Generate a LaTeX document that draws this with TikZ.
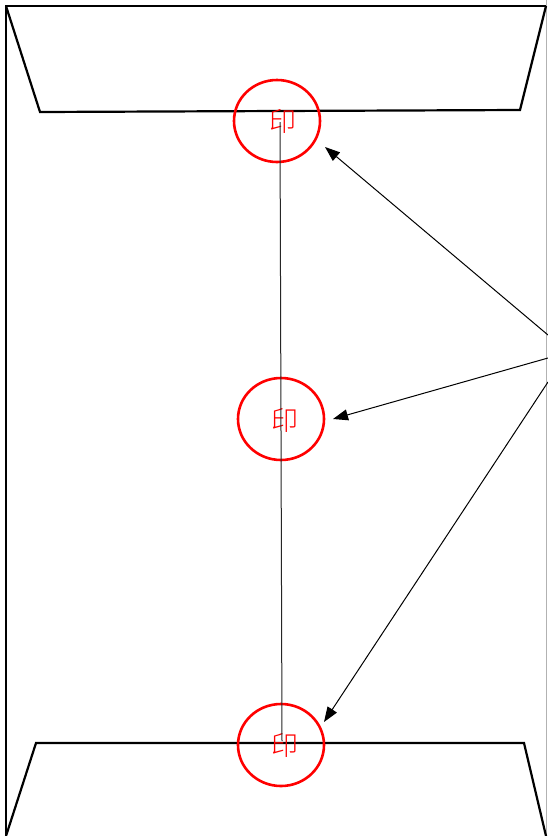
\documentclass[tikz,border=0pt]{standalone}
\usepackage{fontspec}
\newfontfamily\cjk{Noto Sans CJK SC Light}
\usetikzlibrary{shapes.geometric,arrows.meta}
\begin{document}
\begin{tikzpicture}[x=1pt,y=-1pt,
  edge/.style={line width=2.2pt,line join=miter},
  seal/.style={ellipse,draw=red,line width=2.6pt,minimum width=86pt,minimum height=82pt,inner sep=0pt},
  sealtext/.style={text=red,font=\cjk\fontsize{27}{27}\selectfont,inner sep=0pt},
  pointer/.style={line width=1pt,-{Triangle[length=15pt,width=11pt]}}]
\useasboundingbox (0,0) rectangle (547,836);
\fill[white] (0,0) rectangle (547,836);
% envelope outline
\draw[gray!60,line width=0.8pt] (546.5,0) -- (546.5,836);
\draw[edge] (6,836) -- (6,6) -- (546,6);
\draw[edge] (6,6) -- (40,112) -- (520,110) -- (546,6);
\draw[edge] (6,836) -- (36,743) -- (524,743) -- (546,836);
% seals
\node[seal] (c1) at (277,121) {};
\node[seal] (c2) at (281,419) {};
\node[seal] (c3) at (281,745) {};
\node[sealtext] (t1) at (283,121) {印};
\node[sealtext] (t2) at (285,420) {印};
\node[sealtext] (t3) at (285,745) {印};
\coordinate (v1) at (280,122);
\coordinate (v2) at (282,741);
\draw[black!85,line width=1pt] (v1) -- (v2);
% arrows
\coordinate (s1) at (548,335);
\coordinate (s2) at (548,358);
\coordinate (s3) at (548,382);
\coordinate (e1) at (325,147);
\coordinate (e2) at (333,419);
\coordinate (e3) at (324,722);
\draw[pointer] (s1) -- (e1);
\draw[pointer] (s2) -- (e2);
\draw[pointer] (s3) -- (e3);
\end{tikzpicture}
\end{document}
